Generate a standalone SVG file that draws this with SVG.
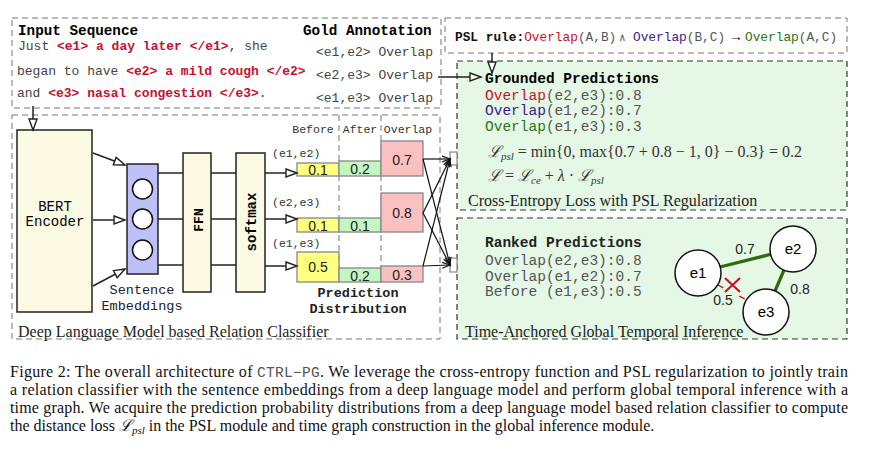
<svg xmlns="http://www.w3.org/2000/svg" width="872" height="455" viewBox="0 0 872 455">
<defs>
<style>
.mono{font-family:"Liberation Mono","DejaVu Sans Mono",monospace;}
.serif{font-family:"Liberation Serif","DejaVu Serif",serif;}
.sans{font-family:"Liberation Sans","DejaVu Sans",sans-serif;}
.b{font-weight:bold;}
.red{fill:#c8102e;}
.pur{fill:#3a1a8c;}
.grn{fill:#2e7314;}
.gray{fill:#555;}
.dash{fill:none;stroke:#777;stroke-width:1;stroke-dasharray:6 4;}
.gdash{fill:#e5f8e6;stroke:#333;stroke-width:1.2;stroke-dasharray:6 4;}
.blk{fill:#fbfbe3;stroke:#222;stroke-width:1.5;}
.ln{stroke:#222;stroke-width:1.5;fill:none;}
.thin{stroke:#111;stroke-width:1.2;fill:none;}
.bar{stroke:#888;stroke-width:1.3;}
.y{fill:#ffff80;}
.g{fill:#c2f7c2;}
.p{fill:#fbc0c0;}
.node{fill:#fff;stroke:#111;stroke-width:1.5;}
</style>
<marker id="hollow" markerUnits="userSpaceOnUse" markerWidth="14" markerHeight="10" refX="12" refY="5" orient="auto">
<path d="M1,1 L12,5 L1,9 z" fill="#fff" stroke="#222" stroke-width="1.4"/>
</marker>
<marker id="small" markerUnits="userSpaceOnUse" markerWidth="10" markerHeight="8" refX="8" refY="4" orient="auto">
<path d="M0,1 L8,4 L0,7" fill="none" stroke="#111" stroke-width="1.2"/>
</marker>
</defs>
<rect width="872" height="455" fill="#fff"/>

<!-- module frames -->
<g id="input-frame">
<rect class="dash" x="12" y="18" width="429" height="90"/>
<text class="mono b" x="18" y="35" font-size="14.3">Input Sequence</text>
<text class="mono" x="18" y="50" font-size="13" fill="#444">Just <tspan class="red b">&lt;e1&gt; a day later &lt;/e1&gt;</tspan>, she</text>
<text class="mono" x="17" y="75" font-size="13" fill="#444">began to have <tspan class="red b">&lt;e2&gt; a mild cough &lt;/e2&gt;</tspan></text>
<text class="mono" x="17" y="97" font-size="13" fill="#444">and <tspan class="red b">&lt;e3&gt; nasal congestion &lt;/e3&gt;</tspan>.</text>
<text class="mono b" x="303" y="35" font-size="14.3">Gold Annotation</text>
<text class="mono" x="316" y="56" font-size="13" fill="#444">&lt;e1,e2&gt; Overlap</text>
<text class="mono" x="316" y="79" font-size="13" fill="#444">&lt;e2,e3&gt; Overlap</text>
<text class="mono" x="316" y="102" font-size="13" fill="#444">&lt;e1,e3&gt; Overlap</text>
</g>

<g id="classifier-frame">
<rect class="dash" x="12" y="115" width="428" height="224"/>
<line class="dash" x1="339" y1="115" x2="339" y2="270"/>
<line class="dash" x1="381" y1="115" x2="381" y2="268"/>
<text class="serif" x="18" y="337" font-size="16" fill="#222">Deep Language Model based Relation Classifier</text>
</g>

<g id="psl-rule">
<rect class="dash" x="445" y="18" width="402" height="35"/>
<text class="mono" x="455" y="41" font-size="12.8" fill="#555"><tspan class="b" fill="#111">PSL rule:</tspan><tspan class="red">Overlap</tspan>(A,B)<tspan x="619" font-size="11">∧</tspan><tspan x="633" class="pur">Overlap</tspan>(B,C)<tspan x="729" fill="#111" class="sans" font-size="14">→</tspan><tspan x="745" class="grn">Overlap</tspan>(A,C)</text>
</g>

<g id="psl-module">
<rect class="gdash" x="457" y="61" width="390" height="149"/>
<text class="mono b" x="485" y="83" font-size="14.5">Grounded Predictions</text>
<text class="mono" x="485" y="99.5" font-size="14.5" fill="#555"><tspan class="red">Overlap</tspan>(e2,e3):0.8</text>
<text class="mono" x="485" y="115" font-size="14.5" fill="#555"><tspan class="pur">Overlap</tspan>(e1,e2):0.7</text>
<text class="mono" x="485" y="131" font-size="14.5" fill="#555"><tspan class="grn">Overlap</tspan>(e1,e3):0.3</text>
<text class="serif" x="488" y="157" font-size="16" fill="#333"><tspan font-style="italic">ℒ</tspan><tspan font-style="italic" font-size="11" dy="3">psl</tspan><tspan dy="-3"> = min{0, max{0.7 + 0.8 − 1, 0} − 0.3} = 0.2</tspan></text>
<text class="serif" x="488" y="181" font-size="16" fill="#333"><tspan font-style="italic">ℒ</tspan> = <tspan font-style="italic">ℒ</tspan><tspan font-style="italic" font-size="11" dy="3">ce</tspan><tspan dy="-3"> + </tspan><tspan font-style="italic">λ</tspan> · <tspan font-style="italic">ℒ</tspan><tspan font-style="italic" font-size="11" dy="3">psl</tspan></text>
<text class="serif" x="468" y="206" font-size="16" fill="#222">Cross-Entropy Loss with PSL Regularization</text>
</g>

<g id="inference-module">
<rect class="gdash" x="457" y="218" width="390" height="121"/>
<text class="mono b" x="485" y="247" font-size="14.5" fill="#222">Ranked Predictions</text>
<text class="mono" x="485" y="265" font-size="14.5" fill="#555">Overlap(e2,e3):0.8</text>
<text class="mono" x="485" y="281" font-size="14.5" fill="#555">Overlap(e1,e2):0.7</text>
<text class="mono" x="485" y="296" font-size="14.5" fill="#555">Before (e1,e3):0.5</text>
<text class="serif" x="465" y="337" font-size="16" fill="#222">Time-Anchored Global Temporal Inference</text>
</g>

<g id="time-graph">
<line x1="720" y1="267" x2="772" y2="254" stroke="#2e6b10" stroke-width="3.2"/>
<line x1="784" y1="270" x2="775" y2="291" stroke="#2e6b10" stroke-width="3.2"/>
<line x1="718" y1="285" x2="745" y2="299" stroke="#c8102e" stroke-width="1.4" stroke-dasharray="6 18"/>
<path d="M725,278 L740,292 M740,278 L725,292" stroke="#c8102e" stroke-width="2.2"/>
<text class="sans" x="745" y="254" font-size="14" text-anchor="middle" fill="#222">0.7</text>
<text class="sans" x="800" y="294" font-size="14" text-anchor="middle" fill="#222">0.8</text>
<text class="sans" x="723" y="305" font-size="14" text-anchor="middle" fill="#222">0.5</text>
<g id="node-e1"><circle class="node" cx="698" cy="273" r="23"/><text class="sans" x="698" y="278" font-size="15" text-anchor="middle">e1</text></g>
<g id="node-e2"><circle class="node" cx="793" cy="249" r="23"/><text class="sans" x="793" y="254" font-size="15" text-anchor="middle">e2</text></g>
<g id="node-e3"><circle class="node" cx="766" cy="312" r="23"/><text class="sans" x="766" y="317" font-size="15" text-anchor="middle">e3</text></g>
</g>

<g id="bert"><rect class="blk" x="17" y="130" width="75" height="182"/>
<text class="mono" x="55" y="211" font-size="14" text-anchor="middle">BERT</text>
<text class="mono" x="55" y="226" font-size="14" text-anchor="middle">Encoder</text></g>

<g id="embeddings"><rect x="127" y="164" width="31" height="110" fill="#c0c0f8" stroke="#222" stroke-width="1.5"/>
<circle class="node" cx="142.5" cy="189" r="10"/>
<circle class="node" cx="142.5" cy="219" r="10"/>
<circle class="node" cx="142.5" cy="250" r="10"/>
<text class="mono" x="142" y="294" font-size="13.5" text-anchor="middle" fill="#222">Sentence</text>
<text class="mono" x="142" y="310" font-size="13.5" text-anchor="middle" fill="#222">Embeddings</text></g>

<g id="ffn"><rect class="blk" x="183" y="153" width="28" height="139"/>
<text class="mono b" x="0" y="0" font-size="13" text-anchor="middle" transform="translate(203,220) rotate(-90)">FFN</text></g>

<g id="softmax"><rect class="blk" x="236" y="153" width="29" height="139"/>
<text class="mono b" x="0" y="0" font-size="14" text-anchor="middle" transform="translate(255.5,222) rotate(-90)">softmax</text></g>

<g id="distribution">
<text class="mono" x="313" y="133" font-size="11.5" text-anchor="middle" fill="#333">Before</text>
<text class="mono" x="360" y="133" font-size="11.5" text-anchor="middle" fill="#333">After</text>
<text class="mono" x="408" y="133" font-size="11.5" text-anchor="middle" fill="#333">Overlap</text>
<text class="mono" x="272" y="157" font-size="11.5" fill="#333">(e1,e2)</text>
<text class="mono" x="272" y="206" font-size="11.5" fill="#333">(e2,e3)</text>
<text class="mono" x="272" y="247" font-size="11.5" fill="#333">(e1,e3)</text>
<g class="sans" font-size="14" text-anchor="middle" fill="#222">
<rect class="bar y" x="297" y="163" width="42" height="13"/><text x="318" y="175">0.1</text>
<rect class="bar g" x="339" y="161" width="42" height="15"/><text x="360" y="174">0.2</text>
<rect class="bar p" x="381" y="141" width="42" height="35"/><text x="402" y="165">0.7</text>
<rect class="bar y" x="297" y="218" width="42" height="14"/><text x="318" y="231">0.1</text>
<rect class="bar g" x="339" y="218" width="42" height="14"/><text x="360" y="231">0.1</text>
<rect class="bar p" x="381" y="193" width="42" height="39"/><text x="402" y="218">0.8</text>
<rect class="bar y" x="297" y="252" width="42" height="30"/><text x="318" y="272">0.5</text>
<rect class="bar g" x="339" y="268" width="42" height="14"/><text x="360" y="281">0.2</text>
<rect class="bar p" x="381" y="266" width="42" height="16"/><text x="402" y="280">0.3</text>
</g>
<text class="mono b" x="358" y="297" font-size="13.5" text-anchor="middle" fill="#222">Prediction</text>
<text class="mono b" x="358" y="313" font-size="13.5" text-anchor="middle" fill="#222">Distribution</text>
</g>

<g id="ports">
<rect x="450" y="152" width="7" height="13" fill="#fff" stroke="#888" stroke-width="1.2"/>
<rect x="450" y="258" width="7" height="14" fill="#fff" stroke="#888" stroke-width="1.2"/>
</g>

<g id="connectors">
<line class="ln" x1="33" y1="106" x2="33" y2="130" marker-end="url(#hollow)"/>
<line class="ln" x1="438" y1="77" x2="481" y2="77" marker-end="url(#hollow)"/>
<line class="ln" x1="492" y1="53" x2="492" y2="73" marker-end="url(#hollow)"/>
<line class="ln" x1="93" y1="153" x2="125" y2="165" marker-end="url(#hollow)"/>
<line class="ln" x1="93" y1="220" x2="125" y2="220" marker-end="url(#hollow)"/>
<line class="ln" x1="93" y1="286" x2="125" y2="269" marker-end="url(#hollow)"/>
<line class="ln" x1="158" y1="173" x2="183" y2="173"/>
<line class="ln" x1="158" y1="219" x2="183" y2="219"/>
<line class="ln" x1="158" y1="265" x2="183" y2="265"/>
<line class="ln" x1="211" y1="173" x2="236" y2="173"/>
<line class="ln" x1="211" y1="219" x2="236" y2="219"/>
<line class="ln" x1="211" y1="265" x2="236" y2="265"/>
<line class="ln" x1="265" y1="173" x2="297" y2="173" marker-end="url(#hollow)"/>
<line class="ln" x1="265" y1="219" x2="297" y2="219" marker-end="url(#hollow)"/>
<line class="ln" x1="265" y1="266" x2="297" y2="266" marker-end="url(#hollow)"/>
<line class="thin" x1="423" y1="159" x2="450" y2="159" marker-end="url(#small)"/>
<line class="thin" x1="423" y1="159" x2="450" y2="265" marker-end="url(#small)"/>
<line class="thin" x1="423" y1="213" x2="450" y2="159" marker-end="url(#small)"/>
<line class="thin" x1="423" y1="213" x2="450" y2="265" marker-end="url(#small)"/>
<line class="thin" x1="423" y1="266" x2="450" y2="159" marker-end="url(#small)"/>
<line class="thin" x1="423" y1="266" x2="450" y2="265" marker-end="url(#small)"/>
</g>

<g id="caption" class="serif" font-size="16" fill="#111">
<text x="10" y="377" textLength="838" lengthAdjust="spacing">Figure 2: The overall architecture of <tspan class="mono" font-size="14.5" fill="#555">CTRL−PG</tspan>. We leverage the cross-entropy function and PSL regularization to jointly train</text>
<text x="10" y="395" textLength="838" lengthAdjust="spacing">a relation classifier with the sentence embeddings from a deep language model and perform global temporal inference with a</text>
<text x="10" y="413" textLength="838" lengthAdjust="spacing">time graph. We acquire the prediction probability distributions from a deep language model based relation classifier to compute</text>
<text x="10" y="431">the distance loss <tspan font-style="italic">ℒ</tspan><tspan font-style="italic" font-size="11" dy="3">psl</tspan><tspan dy="-3"> in the PSL module and time graph construction in the global inference module.</tspan></text>
</g>
</svg>
